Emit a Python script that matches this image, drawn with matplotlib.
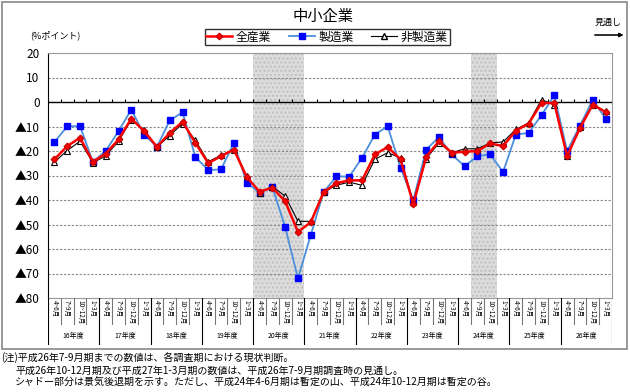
import matplotlib
matplotlib.use("Agg")
import matplotlib.pyplot as plt
import numpy as np
from matplotlib.patches import Rectangle
from matplotlib.lines import Line2D

plt.rcParams['font.family'] = ['Noto Sans CJK JP', 'DejaVu Sans']

title = "中小企業"
quarters = ['4~6月', '7~9月', '10~12月', '1~3月']
years = ['16年度', '17年度', '18年度', '19年度', '20年度', '21年度',
         '22年度', '23年度', '24年度', '25年度', '26年度']
series_names = ['全産業', '製造業', '非製造業']

all_ind = [-23.4, -18.0, -14.6, -24.4, -21.1, -15.3, -6.8, -11.9, -18.3, -12.6, -8.1,
           -16.7, -25.0, -22.1, -19.4, -30.6, -36.6, -35.0, -40.5, -53.0, -49.1, -36.8,
           -33.1, -32.0, -32.0, -21.4, -18.4, -23.4, -41.7, -22.4, -16.0, -20.7, -20.3,
           -20.0, -16.9, -18.0, -11.7, -8.8, -0.4, -0.4, -22.1, -10.6, -1.1, -4.1]
mfg = [-16.4, -9.9, -9.9, -24.4, -20.0, -11.9, -3.1, -13.3, -18.3, -7.5, -4.2,
       -22.5, -27.8, -27.5, -16.7, -32.9, -37.1, -34.7, -51.0, -72.0, -54.3, -36.8,
       -30.3, -30.5, -22.8, -13.3, -9.9, -26.8, -40.1, -19.4, -14.4, -21.4, -26.2,
       -22.1, -21.4, -28.6, -13.3, -12.6, -5.4, 2.7, -20.0, -9.6, 0.9, -6.8]
nonmfg = [-24.5, -19.8, -16.0, -24.8, -22.0, -16.0, -7.2, -11.5, -18.4, -13.7, -8.8,
          -15.7, -24.4, -21.7, -19.4, -30.2, -37.0, -34.5, -38.4, -48.7, -48.7, -36.8,
          -34.0, -32.7, -34.0, -23.4, -20.7, -22.8, -41.0, -23.2, -16.7, -20.7, -19.1,
          -19.1, -16.7, -16.3, -11.2, -8.5, 0.9, -1.1, -22.1, -10.3, -1.1, -3.8]
shade_ranges = [(16, 19), (33, 34)]
yticks = [20, 10, 0, -10, -20, -30, -40, -50, -60, -70, -80]
ytick_labels = ['20', '10', '0', '▲10', '▲20', '▲30', '▲40', '▲50', '▲60', '▲70', '▲80']
notes = ["(注)平成26年7-9月期までの数値は、各調査期における現状判断。",
         "平成26年10-12月期及び平成27年1-3月期の数値は、平成26年7-9月期調査時の見通し。",
         "シャドー部分は景気後退期を示す。ただし、平成24年4-6月期は暫定の山、平成24年10-12月期は暫定の谷。"]

W, H = 630, 392
fig = plt.figure(figsize=(W / 100, H / 100), dpi=100)

def fx(px):
    return px / W

def fy(py):
    return 1 - py / H

# outer frame
fig.patches.append(Rectangle((fx(2), fy(349)), fx(625), (347) / H, transform=fig.transFigure,
                             fill=False, edgecolor='#888888', lw=1.2))

L, R, T, B = 48, 612, 53, 298
ax = fig.add_axes([fx(L), fy(B), fx(R - L), (B - T) / H])
n = len(all_ind)
x = np.arange(n)
ax.set_xlim(-0.5, n - 0.5)
ax.set_ylim(-80, 20)

for s, e in shade_ranges:
    ax.axvspan(s - 0.5, e + 0.5, facecolor='#dcdcdc', edgecolor='#c0c0c0', hatch='....', lw=0, zorder=0)

for yv in yticks:
    if yv not in (0, 20, -80):
        ax.axhline(yv, color='#888888', lw=0.8, ls=(0, (2, 1.5)), zorder=1)
ax.axhline(0, color='black', lw=1.0, zorder=2)
ax.vlines(np.arange(n + 1) - 0.5, 0, 1.2, color='black', lw=0.8, zorder=2)

ax.plot(x, mfg, color='#4a8fdc', lw=1.3, marker='s', ms=4.5, mfc='#0000ff', mec='#0000ff', zorder=3)
ax.plot(x, nonmfg, color='black', lw=0.8, marker='^', ms=5, mfc='white', mec='black', mew=0.8, zorder=4)
ax.plot(x, all_ind, color='#ff0000', lw=1.8, marker='D', ms=3.3, mfc='#ff0000', mec='#cc0000', zorder=5)

ax.set_yticks(yticks)
ax.set_yticklabels(ytick_labels, fontsize=8.5)
ax.tick_params(axis='y', length=0, pad=6)
ax.set_xticks([])
for sp in ['top', 'right', 'bottom']:
    ax.spines[sp].set_color('#999999')
ax.spines['left'].set_color('black')

# category label region
ax2 = fig.add_axes([fx(L), fy(345), fx(R - L), (345 - B) / H])
ax2.set_xlim(-0.5, n - 0.5)
ax2.set_ylim(0, 1)
ax2.axis('off')
for k in range(n + 1):
    if k % 4 == 0:
        ax2.plot([k - 0.5, k - 0.5], [0, 1], color='black', lw=0.8)
    else:
        ax2.plot([k - 0.5, k - 0.5], [0.45, 1], color='#777777', lw=0.8)
for i in range(n):
    ax2.text(i, 0.95, quarters[i % 4], rotation=-90, ha='center', va='top', fontsize=4.6)
for j, yname in enumerate(years):
    ax2.text(j * 4 + 1.5, 0.19, yname, ha='center', va='center', fontsize=5)

# title, legend, texts
fig.text(fx(323), fy(16), title, ha='center', va='center', fontsize=11)
fig.text(fx(30), fy(35), '(%ポイント)', ha='left', va='center', fontsize=6.5)
fig.text(fx(608), fy(22), '見通し', ha='center', va='center', fontsize=6.5)
fig.add_artist(plt.annotate('', xy=(fx(626), fy(35)), xytext=(fx(592), fy(35)),
                            xycoords='figure fraction', textcoords='figure fraction',
                            arrowprops=dict(arrowstyle='-|>', color='black', lw=0.8, mutation_scale=6)))

handles = [Line2D([], [], color='#ff0000', lw=1.8, marker='D', ms=3.3, mfc='#ff0000', mec='#cc0000'),
           Line2D([], [], color='#4a8fdc', lw=1.3, marker='s', ms=4.5, mfc='#0000ff', mec='#0000ff'),
           Line2D([], [], color='black', lw=0.8, marker='^', ms=5, mfc='white', mec='black')]
leg = fig.legend(handles, series_names, loc='center', bbox_to_anchor=(fx(327), fy(37)), ncol=3,
                 fontsize=8.5, frameon=True, fancybox=False, edgecolor='black', handlelength=2.2,
                 handletextpad=0.3, columnspacing=1.5, borderpad=0.15)
leg.get_frame().set_linewidth(1.0)

fig.text(fx(1), fy(358), notes[0], ha='left', va='center', fontsize=7.2)
fig.text(fx(15), fy(371), notes[1], ha='left', va='center', fontsize=7.2)
fig.text(fx(15), fy(383), notes[2], ha='left', va='center', fontsize=7.2)

fig.savefig('out.png', dpi=100)
